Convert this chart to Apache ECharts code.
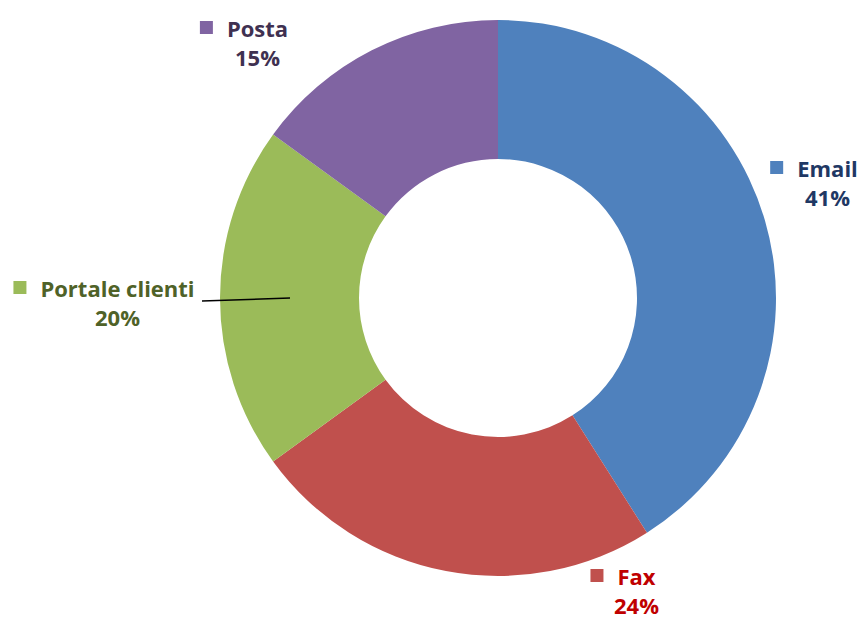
<!DOCTYPE html>
<html>
<head>
<meta charset="utf-8">
<script src="https://cdn.jsdelivr.net/npm/echarts@6/dist/echarts.min.js"></script>
<style>
  html, body { margin: 0; padding: 0; background: #ffffff; }
  #chart { width: 861px; height: 619px; }
</style>
</head>
<body>
<div id="chart"></div>
<script>
(function() {
    // data
    var categories = ['Email', 'Fax', 'Portale clienti', 'Posta'];
    var shares = [41, 24, 20, 15];
    var sliceColors = ['#4f81bd', '#c0504d', '#9bbb59', '#8064a2'];
    var textColors = ['#1f3864', '#c00000', '#4f6228', '#3f3151'];

    // label block centres (layout only)
    var labelPos = [[814, 182], [623, 590], [104, 302], [244, 42]];

    var font = '"Open Sans", "Noto Sans", sans-serif';

    var chart = echarts.init(document.getElementById('chart'), null, { renderer: 'svg' });

    var data = categories.map(function(name, i) {
        return {
            name: name,
            value: shares[i],
            itemStyle: { color: sliceColors[i] },
            label: {
                formatter: '{sq|}{gap|}{nm|' + name + '}\n{sp|}{pct|' + shares[i] + '%}',
                rich: {
                    sq: { width: 13, height: 13, backgroundColor: sliceColors[i] },
                    gap: { width: 14 },
                    sp: { width: 27 },
                    nm: { color: textColors[i], fontSize: 22, fontWeight: 'bold', fontFamily: font, lineHeight: 29 },
                    pct: { color: textColors[i], fontSize: 22, fontWeight: 'bold', fontFamily: font, lineHeight: 29 }
                }
            }
        };
    });

    var option = {
        animation: false,
        backgroundColor: '#ffffff',
        series: [{
            type: 'pie',
            center: [498, 298],
            radius: [139, 278],
            startAngle: 90,
            clockwise: true,
            silent: true,
            label: {
                show: true,
                position: 'outside',
                align: 'center',
                overflow: 'none',
                width: 300
            },
            labelLine: { show: false },
            labelLayout: function(params) {
                var p = labelPos[params.dataIndex];
                return { x: p[0], y: p[1], align: 'center', verticalAlign: 'middle' };
            },
            data: data
        }],
        graphic: [{
            type: 'line',
            shape: { x1: 202, y1: 301, x2: 290, y2: 298 },
            style: { stroke: '#000000', lineWidth: 1.5 },
            z: 10
        }]
    };

    chart.setOption(option);
    window.addEventListener('resize', function() { chart.resize(); });
})();
</script>
</body>
</html>
